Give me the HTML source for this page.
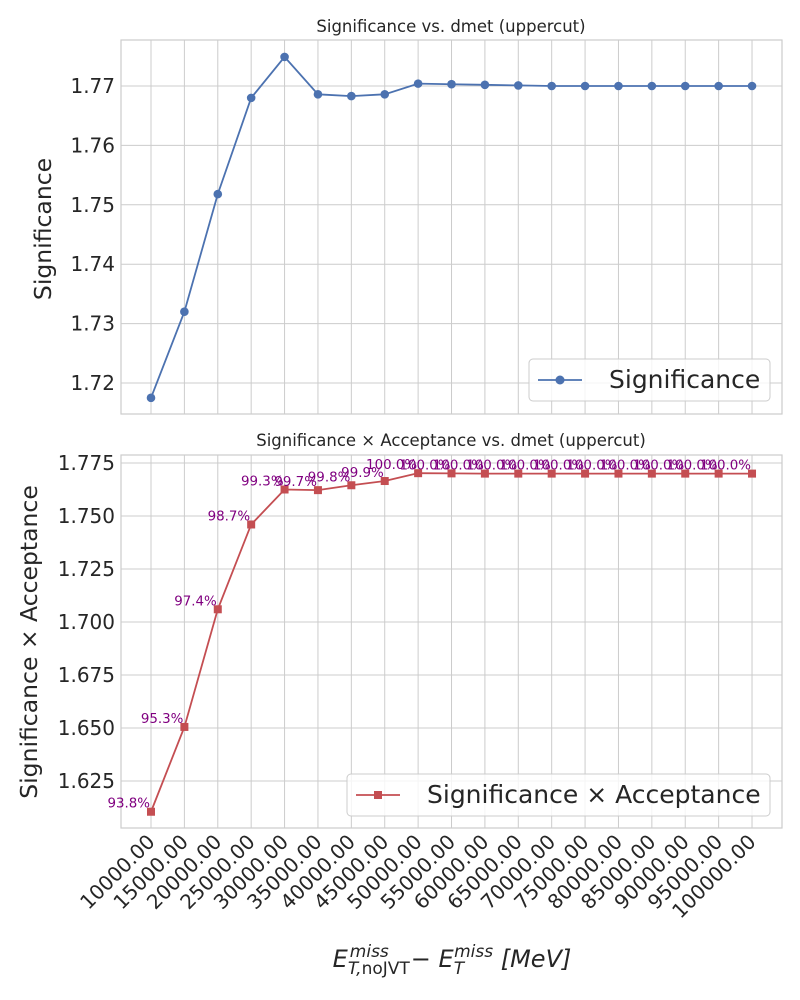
<!DOCTYPE html>
<html><head><meta charset="utf-8"><style>
body{margin:0;background:#fff;}
svg{display:block;font-family:"DejaVu Sans","Liberation Sans",sans-serif;}
</style></head><body>
<svg id="c" width="800" height="1000"></svg>
<script>
const categories=[10000,15000,20000,25000,30000,35000,40000,45000,50000,55000,60000,65000,70000,75000,80000,85000,90000,95000,100000];
const significance=[1.7175,1.7320,1.7518,1.7680,1.7749,1.7686,1.7683,1.7686,1.7704,1.7703,1.7702,1.7701,1.7700,1.7700,1.7700,1.7700,1.7700,1.7700,1.7700];
const sigAcc=[1.6105,1.6505,1.7060,1.7460,1.7625,1.7622,1.7645,1.7665,1.7702,1.7701,1.7700,1.7700,1.7700,1.7700,1.7700,1.7700,1.7700,1.7700,1.7700];
const accLabels=["93.8%","95.3%","97.4%","98.7%","99.3%","99.7%","99.8%","99.9%","100.0%","100.0%","100.0%","100.0%","100.0%","100.0%","100.0%","100.0%","100.0%","100.0%","100.0%"];
const topTicks=[1.72,1.73,1.74,1.75,1.76,1.77];
const botTicks=[1.625,1.65,1.675,1.7,1.725,1.75,1.775];
const NS="http://www.w3.org/2000/svg";
const svg=document.getElementById('c');
function el(t,a,p){const e=document.createElementNS(NS,t);for(const k in a)e.setAttribute(k,a[k]);(p||svg).appendChild(e);return e;}
const L=121,R=782;
const x=v=>151+(v-10000)/5000*33.39;
const yT=v=>86+(1.77-v)/0.01*59.4;
const yB=v=>463+(1.775-v)/0.025*53;
function panel(top,bot,ticks,yf,fmt,name){
  const g=el('g',{});
  
  
  categories.forEach(c=>el('line',{x1:x(c),x2:x(c),y1:top,y2:bot,stroke:'#ccc','stroke-width':1},g));
  ticks.forEach(t=>{el('line',{x1:L,x2:R,y1:yf(t),y2:yf(t),stroke:'#ccc','stroke-width':1},g);
    const tx=el('text',{x:L-6,y:yf(t)+7,'text-anchor':'end','font-size':20,fill:'#262626'},g);tx.textContent=fmt(t);
    
    });
  el('rect',{x:L,y:top,width:R-L,height:bot-top,fill:'none',stroke:'#ccc','stroke-width':1.2},g);
  return g;
}
panel(40,414,topTicks,yT,t=>t.toFixed(2),'top-panel');
panel(455,828,botTicks,yB,t=>t.toFixed(3),'bottom-panel');
function txt(s,a){const t=el('text',a);t.textContent=s;return t;}
let t=txt('Significance vs. dmet (uppercut)',{x:451,y:32,'text-anchor':'middle','font-size':16.5,fill:'#262626'});

t=txt('Significance × Acceptance vs. dmet (uppercut)',{x:451,y:446,'text-anchor':'middle','font-size':16.5,fill:'#262626'});

t=txt('Significance',{x:51,y:229,'text-anchor':'middle','font-size':23.5,fill:'#262626',transform:'rotate(-90 51 229)'});

t=txt('Significance × Acceptance',{x:37,y:642,'text-anchor':'middle','font-size':23.5,fill:'#262626',transform:'rotate(-90 37 642)'});

el('polyline',{points:categories.map((c,i)=>x(c)+','+yT(significance[i])).join(' '),fill:'none',stroke:'#4c72b0','stroke-width':1.8});
categories.forEach((c,i)=>{const m=el('circle',{cx:x(c),cy:yT(significance[i]),r:4.3,fill:'#4c72b0'});
  });
el('polyline',{points:categories.map((c,i)=>x(c)+','+yB(sigAcc[i])).join(' '),fill:'none',stroke:'#c44e52','stroke-width':1.8});
categories.forEach((c,i)=>{const m=el('rect',{x:x(c)-4,y:yB(sigAcc[i])-4,width:8,height:8,fill:'#c44e52'});
  
  const l=txt(accLabels[i],{x:x(c)-1,y:yB(sigAcc[i])-4,'text-anchor':'end','font-size':13.4,fill:'#800080'});
  });
categories.forEach(c=>{const xx=x(c)+5,yy=843;
  const l=txt(c.toFixed(2),{x:xx,y:yy,'text-anchor':'end','font-size':20,fill:'#262626',transform:`rotate(-45 ${xx} ${yy})`});
  });
const xl=el('text',{x:452,y:967,'text-anchor':'middle','font-size':24,fill:'#262626'});

xl.innerHTML='<tspan font-style="italic">E</tspan><tspan font-size="17" dy="7" font-style="italic">T,</tspan><tspan font-size="17">noJVT</tspan><tspan font-size="17" dx="-60" dy="-17" font-style="italic">miss</tspan><tspan dx="22" dy="10">− </tspan><tspan font-style="italic">E</tspan><tspan font-size="17" dy="7" font-style="italic">T</tspan><tspan font-size="17" dx="-10" dy="-17" font-style="italic">miss</tspan><tspan dy="10" font-style="italic"> [MeV]</tspan>';
function legend(x0,y0,w,col,sq,label,name){
  const g=el('g',{});
  el('rect',{x:x0,y:y0,width:w,height:42,rx:4,fill:'#fff','fill-opacity':0.8,stroke:'#ccc'},g);
  el('line',{x1:x0+9,x2:x0+53,y1:y0+21,y2:y0+21,stroke:col,'stroke-width':1.8},g);
  if(sq)el('rect',{x:x0+27,y:y0+17,width:8,height:8,fill:col},g);else el('circle',{cx:x0+31,cy:y0+21,r:4.5,fill:col},g);
  const t=el('text',{x:x0+80,y:y0+29,'font-size':25,fill:'#262626'},g);t.textContent=label;
}
legend(529,359,241,'#4c72b0',false,'Significance','top-legend');
legend(347,774,423,'#c44e52',true,'Significance × Acceptance','bottom-legend');
</script>
</body></html>
